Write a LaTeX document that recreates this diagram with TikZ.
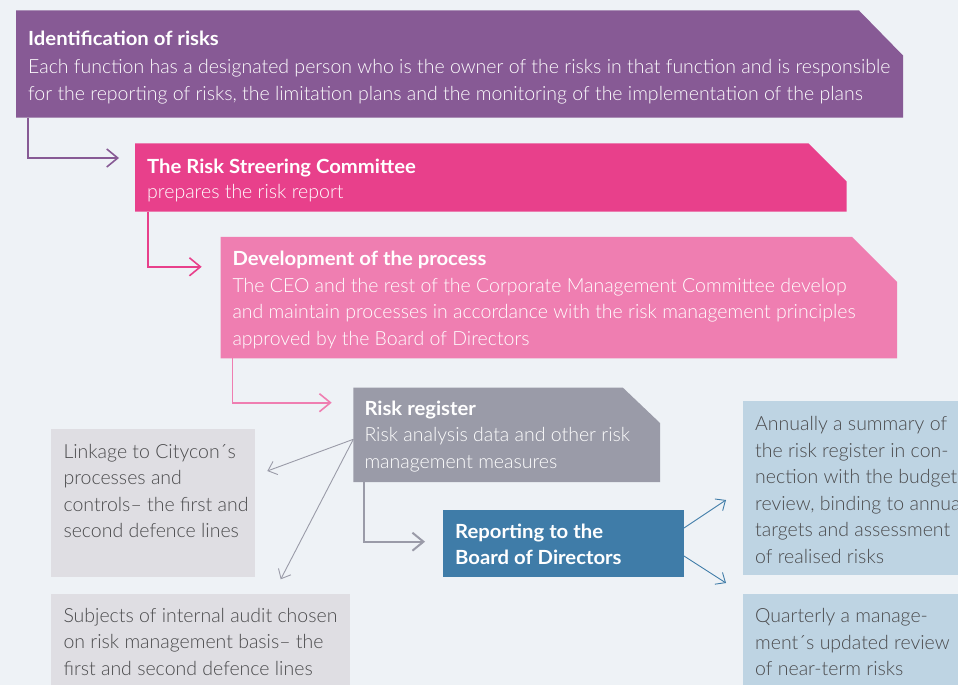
\documentclass[tikz,border=0pt]{standalone}
\usepackage{fontspec}
\setmainfont{Lato}[BoldFeatures={FakeStretch=1.04}]
\newfontfamily\lightfont{Lato Light}
\usetikzlibrary{arrows.meta}
\definecolor{bg}{HTML}{EEF2F6}
\definecolor{cpurple}{HTML}{875A95}
\definecolor{cpink}{HTML}{E8408B}
\definecolor{clpink}{HTML}{EF7EB1}
\definecolor{cgray}{HTML}{9A9BA8}
\definecolor{cblue}{HTML}{3F7CA8}
\definecolor{clgray}{HTML}{DFDEE3}
\definecolor{clblue}{HTML}{BED4E3}
\definecolor{ctext}{HTML}{4A4A4C}
\tikzset{
  shp/.style={rectangle, inner sep=0pt, outer sep=0pt, anchor=north west},
  conn/.style={line width=1.6pt, -{Straight Barb[length=11pt,width=18pt]}},
  thinconn/.style={line width=0.9pt, -{Straight Barb[length=8pt,width=14pt]}},
  ttl/.style={anchor=base west, inner sep=0pt, font=\bfseries\fontsize{19.5}{26.5}\selectfont, text=white},
  bdy/.style={anchor=base west, inner sep=0pt, align=left, font=\lightfont\fontsize{19.5}{26.5}\selectfont},
}
\begin{document}
\begin{tikzpicture}[x=1pt,y=-1pt]
\useasboundingbox (0,0) rectangle (958,685);
\clip (0,0) rectangle (958,685);
\fill[bg] (0,0) rectangle (958,685);

% shapes
\node[shp, minimum width=887pt, minimum height=107pt] (b1) at (16,10.5) {};
\fill[cpurple] (b1.north west) -- ([xshift=-44pt]b1.north east) -- ([yshift=-45pt]b1.north east) -- (b1.south east) -- (b1.south west) -- cycle;
\node[shp, minimum width=711.5pt, minimum height=68.2pt] (b2) at (135,143.3) {};
\fill[cpink] (b2.north west) -- ([xshift=-38pt]b2.north east) -- ([yshift=-38pt]b2.north east) -- (b2.south east) -- (b2.south west) -- cycle;
\node[shp, minimum width=676.3pt, minimum height=121.5pt] (b3) at (220.7,236.8) {};
\fill[clpink] (b3.north west) -- ([xshift=-45pt]b3.north east) -- ([yshift=-45pt]b3.north east) -- (b3.south east) -- (b3.south west) -- cycle;
\node[shp, minimum width=306.7pt, minimum height=94.5pt] (b4) at (353.3,387.5) {};
\fill[cgray] (b4.north west) -- ([xshift=-37.3pt]b4.north east) -- ([yshift=-35.5pt]b4.north east) -- (b4.south east) -- (b4.south west) -- cycle;
\node[shp, fill=cblue, minimum width=240.7pt, minimum height=67pt] (b5) at (443.3,510) {};
\node[shp, fill=clgray, minimum width=204pt, minimum height=148pt] (b6) at (51,429) {};
\node[shp, fill=clgray, minimum width=298.5pt, minimum height=100pt] (b7) at (51,593.5) {};
\node[shp, fill=clblue, minimum width=230pt, minimum height=174pt] (b8) at (743,401) {};
\node[shp, fill=clblue, minimum width=230pt, minimum height=100pt] (b9) at (743,594) {};

% texts (body nodes are anchored at the baseline of their last line)
\node[ttl] (t1) at (28,45.7) {Identification of risks};
\node[bdy, text=white] (d1) at (28,100) {Each function has a designated person who is the owner of the risks in that function and is responsible\\for the reporting of risks, the limitation plans and the monitoring of the implementation of the plans};
\node[ttl] (t2) at (147,173.3) {The Risk Streering Committee};
\node[bdy, text=white] (d2) at (147,198.3) {prepares the risk report};
\node[ttl] (t3) at (232.3,265.5) {Development of the process};
\node[bdy, text=white] (d3) at (232.3,345) {The CEO and the rest of the Corporate Management Committee develop\\and maintain processes in accordance with the risk management principles\\approved by the Board of Directors};
\node[ttl] (t4) at (364.3,415) {Risk register};
\node[bdy, text=white] (d4) at (364.3,468.3) {Risk analysis data and other risk\\management measures};
\node[ttl] (t5) at (455,538.3) {Reporting to the};
\node[ttl] (t5b) at (455,564.3) {Board of Directors};
\node[bdy, text=ctext] (d6) at (63.3,537.7) {Linkage to Citycon´s\\processes and\\controls– the first and\\second defence lines};
\node[bdy, text=ctext] (d7) at (63.3,675) {Subjects of internal audit chosen\\on risk management basis– the\\first and second defence lines};
\node[bdy, text=ctext] (d8) at (755,563) {Annually a summary of\\the risk register in con-\\nection with the budget\\review, binding to annual\\targets and assessment\\of realised risks};
\node[bdy, text=ctext] (d9) at (755,675.5) {Quarterly a manage-\\ment´s updated review\\of near-term risks};

% connector points
\coordinate (p1) at ([xshift=11.7pt]b1.south west);
\coordinate (q1) at ([xshift=-16pt,yshift=-14.7pt]b2.north west);
\coordinate (p2) at ([xshift=12.7pt]b2.south west);
\coordinate (q2) at ([xshift=-19pt,yshift=-30pt]b3.north west);
\coordinate (p3) at ([xshift=11.6pt]b3.south west);
\coordinate (q3) at ([xshift=-21.6pt,yshift=-15.2pt]b4.north west);
\coordinate (p4) at ([xshift=11pt]b4.south west);
\coordinate (q4) at ([xshift=-18.3pt,yshift=-31.7pt]b5.north west);
\coordinate (p5) at ([yshift=-51.8pt]b4.north west);
\coordinate (q5) at ([xshift=12.3pt,yshift=-42pt]b6.north east);
\coordinate (q6) at ([xshift=229.7pt,yshift=14.2pt]b7.north west);
\coordinate (p7) at ([yshift=15.5pt]b5.east);
\coordinate (p8) at ([yshift=-12.5pt]b5.east);
\coordinate (q7) at ([xshift=-17pt,yshift=-99pt]b8.north west);
\coordinate (q8) at ([xshift=-17pt,yshift=-8pt]b8.south west);

\draw[conn, cpurple] (p1) |- (q1);
\draw[conn, cpink] (p2) |- (q2);
\draw[conn, clpink] (p3) |- (q3);
\draw[conn, cgray, line width=2pt] (p4) |- (q4);
\draw[thinconn, cgray] (p5) -- (q5);
\draw[thinconn, cgray] (p5) -- (q6);
\draw[thinconn, cblue] (p7) -- (q7);
\draw[thinconn, cblue] (p8) -- (q8);
\end{tikzpicture}
\end{document}
